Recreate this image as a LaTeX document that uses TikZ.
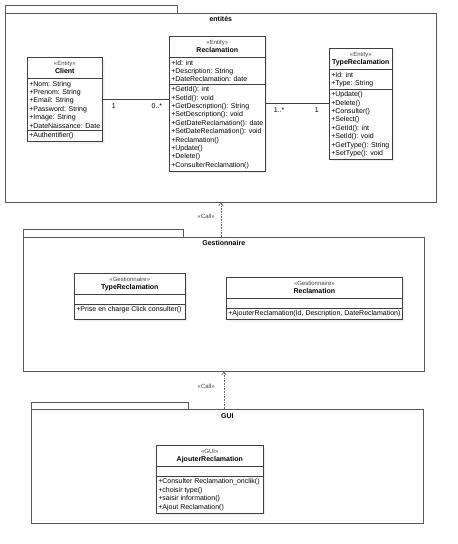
\documentclass[tikz,border=0pt]{standalone}
\usepackage{fontspec}
\setmainfont{Liberation Sans}
\usetikzlibrary{shapes.multipart,arrows.meta,shadows}

\newcommand{\stereo}[1]{{\fontsize{6}{7}\selectfont\textcolor{black!75}{«#1»}}}
\newcommand{\classhead}[2]{\begin{tabular}{@{}c@{}}\stereo{#1}\\\textbf{#2}\end{tabular}}

\begin{document}
\begin{tikzpicture}[
    x=1pt, y=-1pt,
    font=\fontsize{7}{8.4}\selectfont,
    classbox/.style={rectangle split, rectangle split parts=3, draw=black!75, line width=0.6pt,
        fill=white, inner xsep=2pt, inner ysep=2pt, align=left, anchor=north west,
        rectangle split part align={center,left,left}, rectangle split empty part height=1pt,
        drop shadow={opacity=0.12, shadow xshift=2pt, shadow yshift=-2pt}},
    pkgtab/.style={draw=black!65, line width=0.6pt, fill=white},
    pkgbody/.style={draw=black!65, line width=0.6pt, fill=white, anchor=north west, inner sep=0pt},
    pkgtitle/.style={font=\fontsize{7}{8.4}\selectfont\bfseries, anchor=north, inner sep=0pt},
    assoc/.style={draw=black!75, line width=0.6pt},
    mult/.style={inner sep=0pt, yshift=-3.5pt},
    call/.style={densely dotted, draw=black!60, line width=0.6pt, -{Straight Barb[length=3pt,width=5pt]}},
    calltext/.style={font=\fontsize{6}{7}\selectfont, text=black!75, inner sep=0pt, anchor=east},
]
\useasboundingbox (0,0) rectangle (458,544);

% Package entites
\draw[pkgtab] (5,5) rectangle (177,13);
\node[pkgbody, minimum width=431pt, minimum height=189pt] (entites) at (5,13) {};
\node[pkgtitle, yshift=-3.5pt] (entitesTitle) at (entites.north) {entités};

\node[classbox, minimum width=75pt] (client) at (27,57) {\classhead{Entity}{Client}
    \nodepart{two}+Nom: String\\+Prenom: String\\+Email: String\\+Password: String\\+Image: String\\+DateNaissance: Date
    \nodepart{three}+Authentifier()};

\node[classbox, minimum width=96pt] (recl) at (169,36) {\classhead{Entity}{Reclamation}
    \nodepart{two}+Id: int\\+Description: String\\+DateReclamation: date
    \nodepart{three}+GetId(): int\\+SetId(): void\\+GetDescription(): String\\+SetDescription(): void\\
    +GetDateReclamation(): date\\+SetDateReclamation(): void\\+Reclamation()\\+Update()\\+Delete()\\
    +ConsulterReclamation()};

\node[classbox, minimum width=63pt] (typeRecl) at (329,48) {\classhead{Entity}{TypeReclamation}
    \nodepart{two}+Id: int\\+Type: String
    \nodepart{three}+Update()\\+Delete()\\+Consulter()\\+Select()\\+GetId(): int\\+SetId(): void\\
    +GetType(): String\\+SetType(): void};

% Associations
\draw[assoc] (client.east) -- (client.east -| recl.west)
    node[mult, pos=0, anchor=north west, xshift=9pt] (multClient) {1}
    node[mult, pos=1, anchor=north east, xshift=-6.5pt] (multRecl) {0..*};
\draw[assoc] (recl.east) -- (recl.east -| typeRecl.west)
    node[mult, pos=0, anchor=north west, xshift=8pt] (multRecl2) {1..*}
    node[mult, pos=1, anchor=north east, xshift=-10pt] (multType) {1};

% Package Gestionnaire
\draw[pkgtab] (23,229) rectangle (183,237);
\node[pkgbody, minimum width=401pt, minimum height=134pt] (gest) at (23,237) {};
\node[pkgtitle, yshift=-3.5pt] (gestTitle) at (gest.north) {Gestionnaire};

\node[classbox, minimum width=111pt] (gestType) at (74,273) {\classhead{Gestionnaire}{TypeReclamation}
    \nodepart{two}
    \nodepart{three}+Prise en charge Click consulter()\rule[-5pt]{0pt}{1pt}};

\node[classbox, minimum width=176pt] (gestRecl) at (226,277) {\classhead{Gestionnaire}{Reclamation}
    \nodepart{two}
    \nodepart{three}+AjouterReclamation(Id, Description, DateReclamation)};

% Package GUI
\draw[pkgtab] (31,402) rectangle (188,409);
\node[pkgbody, minimum width=392pt, minimum height=114pt] (gui) at (31,409) {};
\node[pkgtitle, yshift=-4pt] (guiTitle) at (gui.north) {GUI};

\node[classbox, minimum width=107pt] (ajoutRecl) at (156,445) {\classhead{GUI}{AjouterReclamation}
    \nodepart{two}
    \nodepart{three}+Consulter Reclamation\_onclik()\\+choisir type()\\+saisir information()\\+Ajout Reclamation()};

% Call dependencies
\coordinate (callA) at (221,0);
\coordinate (callB) at (224,0);
\draw[call] (gest.north -| callA) -- (entites.south -| callA)
    node[calltext, midway, xshift=-6pt, yshift=3pt] (callLabelA) {«Call»};
\draw[call] (gui.north -| callB) -- (gest.south -| callB)
    node[calltext, midway, xshift=-9pt, yshift=4pt] (callLabelB) {«Call»};

\end{tikzpicture}
\end{document}
